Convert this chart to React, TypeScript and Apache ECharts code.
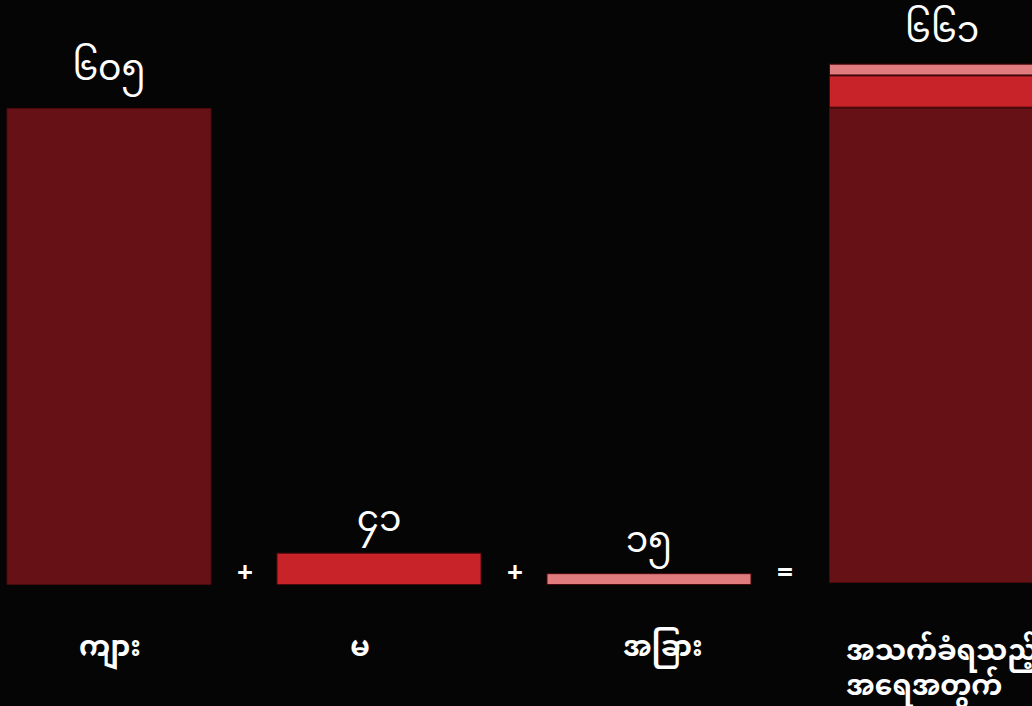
import React, { useEffect, useRef } from "react";
import * as echarts from "echarts";

const categories = ["ကျား", "မ", "အခြား"];
const totalCategory = ["အသက်ခံရသည့်", "အရေအတွက်"];
const values = [605, 41, 15];
const barColors = ["#661116", "#c9232a", "#e07b7e"];
const operatorSigns = ["+", "+", "="];
const operatorSlots = [1, 2, 3];
// small horizontal nudges of the category labels (px, + = right)
const labelShift = [1, -19, 14];
// gap between each value label and its bar (px)
const labelGap = [18, 12, 12];

const MY_DIGITS = ["၀", "၁", "၂", "၃", "၄", "၅", "၆", "၇", "၈", "၉"];
const toMyanmar = (n: number) =>
  String(n)
    .split("")
    .map((d) => MY_DIGITS[+d] ?? d)
    .join("");

const FONT = '"Noto Sans Myanmar", "Padauk", "Myanmar Text", "Noto Sans", sans-serif';

export default function App() {
  const ref = useRef<HTMLDivElement>(null);
  useEffect(() => {
    if (!ref.current) return;
    const chart = echarts.init(ref.current, null, { renderer: "svg" });
    const total = values.reduce((a, b) => a + b, 0);
    const valueLabel = {
      show: true,
      position: "top",
      distance: 12,
      color: "#ffffff",
      fontSize: 36,
      fontFamily: FONT,
      fontWeight: "normal",
    };
    const border = { borderColor: "#4a0a0d", borderWidth: 1 };
    const catLabel = {
      interval: 0,
      margin: 47,
      color: "#ffffff",
      fontSize: 28,
      fontWeight: "bold",
      fontFamily: FONT,
      lineHeight: 35,
    };
    const rich: any = {};
    labelShift.forEach((s, i) => {
      rich["c" + i] = {
        color: "#ffffff",
        fontSize: 28,
        fontWeight: "bold",
        fontFamily: FONT,
        padding: s >= 0 ? [0, 0, 0, 2 * s] : [0, -2 * s, 0, 0],
      };
    });
    chart.setOption({
      animation: false,
      backgroundColor: "#050505",
      grid: [
        { left: 0, width: 810, top: 33, bottom: 121 },
        { left: 855, width: 226, top: 33, bottom: 121 },
      ],
      xAxis: [
        {
          type: "category",
          gridIndex: 0,
          data: categories,
          axisLine: { show: false },
          axisTick: { show: false },
          axisLabel: {
            ...catLabel,
            formatter: (v: string, i: number) => `{c${i}|${v}}`,
            rich,
          },
        },
        {
          type: "category",
          gridIndex: 1,
          data: [totalCategory.join(" ")],
          axisLine: { show: false },
          axisTick: { show: false },
          axisLabel: {
            ...catLabel,
            margin: 53,
            formatter: () => totalCategory.map((t) => `{t|${t}}`).join("\n"),
            rich: {
              t: {
                align: "left",
                color: "#ffffff",
                fontSize: 28,
                fontWeight: "bold",
                fontFamily: FONT,
                lineHeight: 35,
              },
            },
          },
        },
      ],
      yAxis: [
        { type: "value", gridIndex: 0, min: 0, max: 700, show: false },
        { type: "value", gridIndex: 1, min: 0, max: 700, show: false },
      ],
      series: [
        {
          type: "bar",
          xAxisIndex: 0,
          yAxisIndex: 0,
          barWidth: 205,
          data: values.map((v, i) => ({
            value: v,
            itemStyle: { color: barColors[i], ...border },
            label: { distance: labelGap[i] },
          })),
          label: { ...valueLabel, formatter: (p: any) => toMyanmar(p.value) },
        },
        ...values.map((v, i) => ({
          type: "bar",
          xAxisIndex: 1,
          yAxisIndex: 1,
          stack: "total",
          barWidth: "100%",
          data: [v],
          itemStyle: { color: barColors[i], ...border },
          label:
            i === values.length - 1
              ? { ...valueLabel, formatter: () => toMyanmar(total) }
              : { show: false },
        })),
        {
          type: "custom",
          xAxisIndex: 0,
          yAxisIndex: 0,
          data: operatorSlots.map((s) => [s, 0]),
          renderItem: (params: any, api: any) => {
            const c = api.coord([api.value(0), 0]);
            const band = api.size([1, 0])[0];
            return {
              type: "text",
              x: c[0] - band / 2 + 1,
              y: c[1] - 10,
              style: {
                text: operatorSigns[params.dataIndex],
                fill: "#ffffff",
                fontSize: 28,
                fontWeight: "bold",
                fontFamily: FONT,
                align: "center",
                verticalAlign: "middle",
              },
            };
          },
        },
      ],
    });
    return () => chart.dispose();
  }, []);
  return (
    <div
      style={{ position: "fixed", left: 0, top: 0, width: 1032, height: 706, overflow: "hidden", background: "#050505" }}
    >
      <div ref={ref} style={{ position: "absolute", left: -26, top: 0, width: 1100, height: 706 }} />
    </div>
  );
}
